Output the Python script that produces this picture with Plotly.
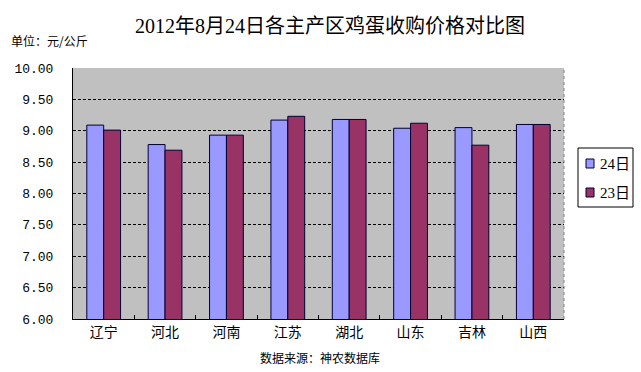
import plotly.graph_objects as go

categories = ["辽宁", "河北", "河南", "江苏", "湖北", "山东", "吉林", "山西"]
series_names = ["24日", "23日"]
values_24 = [9.09, 8.78, 8.93, 9.17, 9.18, 9.04, 9.05, 9.10]
values_23 = [9.01, 8.69, 8.93, 9.23, 9.18, 9.12, 8.77, 9.10]
y_ticks = [6.0, 6.5, 7.0, 7.5, 8.0, 8.5, 9.0, 9.5, 10.0]

title_text = "2012年8月24日各主产区鸡蛋收购价格对比图"
unit_text = "单位：元/公斤"
source_text = "数据来源：神农数据库"

colors = ["#9999FF", "#993366"]
edge = "#000033"

W, H = 641, 372
L, R, T, B = 73, 77, 68, 53
pw, ph = W - L - R, H - T - B

def px_x(x):
    return (x - L) / pw

def px_y(y):
    return (H - B - y) / ph

cjk_serif = "Liberation Serif, Noto Sans CJK SC, serif"
cjk_sans = "Noto Sans CJK SC, sans-serif"

fig = go.Figure()
for name, vals, col in zip(series_names, [values_24, values_23], colors):
    fig.add_bar(x=categories, y=vals, name=name,
                marker=dict(color=col, line=dict(color=edge, width=1)))

fig.update_layout(
    width=W, height=H,
    margin=dict(l=L, r=R, t=T, b=B, autoexpand=False),
    paper_bgcolor="white",
    plot_bgcolor="#C0C0C0",
    barmode="group",
    bargap=0.45,
    bargroupgap=0,
    showlegend=False,
    font=dict(family=cjk_sans, color="black"),
)

fig.update_xaxes(
    type="category",
    showline=True, linecolor="black", linewidth=1,
    ticks="inside", tickson="boundaries", ticklen=4, tickcolor="black",
    tickfont=dict(family=cjk_sans, size=14, color="black"),
    showgrid=False,
)
fig.update_yaxes(
    range=[6, 10],
    tickvals=y_ticks,
    tickformat=".2f",
    showline=True, linecolor="black", linewidth=1,
    showgrid=True, gridcolor="black", griddash="3px,2px", gridwidth=1,
    ticks="", ticklabelstandoff=16,
    tickfont=dict(family="Liberation Mono, DejaVu Sans Mono, monospace", size=13, color="black"),
    zeroline=False,
)

# dotted right border of plot area
fig.add_shape(type="line", xref="paper", yref="paper", x0=1, x1=1, y0=0, y1=1,
              line=dict(color="#808080", width=1, dash="dot"))

# legend box (drawn manually to match the compact original)
fig.add_shape(type="rect", xref="paper", yref="paper",
              x0=px_x(578), x1=px_x(633), y0=px_y(207), y1=px_y(148),
              line=dict(color="black", width=1), fillcolor="white")
for i, (name, col) in enumerate(zip(series_names, colors)):
    yc = 163.5 + 29 * i
    fig.add_shape(type="rect", xref="paper", yref="paper",
                  x0=px_x(586), x1=px_x(594), y0=px_y(yc + 4.5), y1=px_y(yc - 4.5),
                  line=dict(color=edge, width=1), fillcolor=col)
    fig.add_annotation(text=name, xref="paper", yref="paper",
                       x=px_x(598), y=px_y(yc), xanchor="left", yanchor="middle",
                       showarrow=False,
                       font=dict(family=cjk_serif, size=15, color="black"))

fig.add_annotation(text=title_text, xref="paper", yref="paper",
                   x=px_x(330), y=px_y(26), xanchor="center", yanchor="middle",
                   showarrow=False, font=dict(family=cjk_serif, size=20, color="black"))
fig.add_annotation(text=unit_text, xref="paper", yref="paper",
                   x=px_x(9), y=px_y(40), xanchor="left", yanchor="middle",
                   showarrow=False, font=dict(family=cjk_sans, size=12, color="black"))
fig.add_annotation(text=source_text, xref="paper", yref="paper",
                   x=px_x(320), y=px_y(357), xanchor="center", yanchor="middle",
                   showarrow=False, font=dict(family=cjk_sans, size=12, color="black"))

fig.write_html("out.html")
